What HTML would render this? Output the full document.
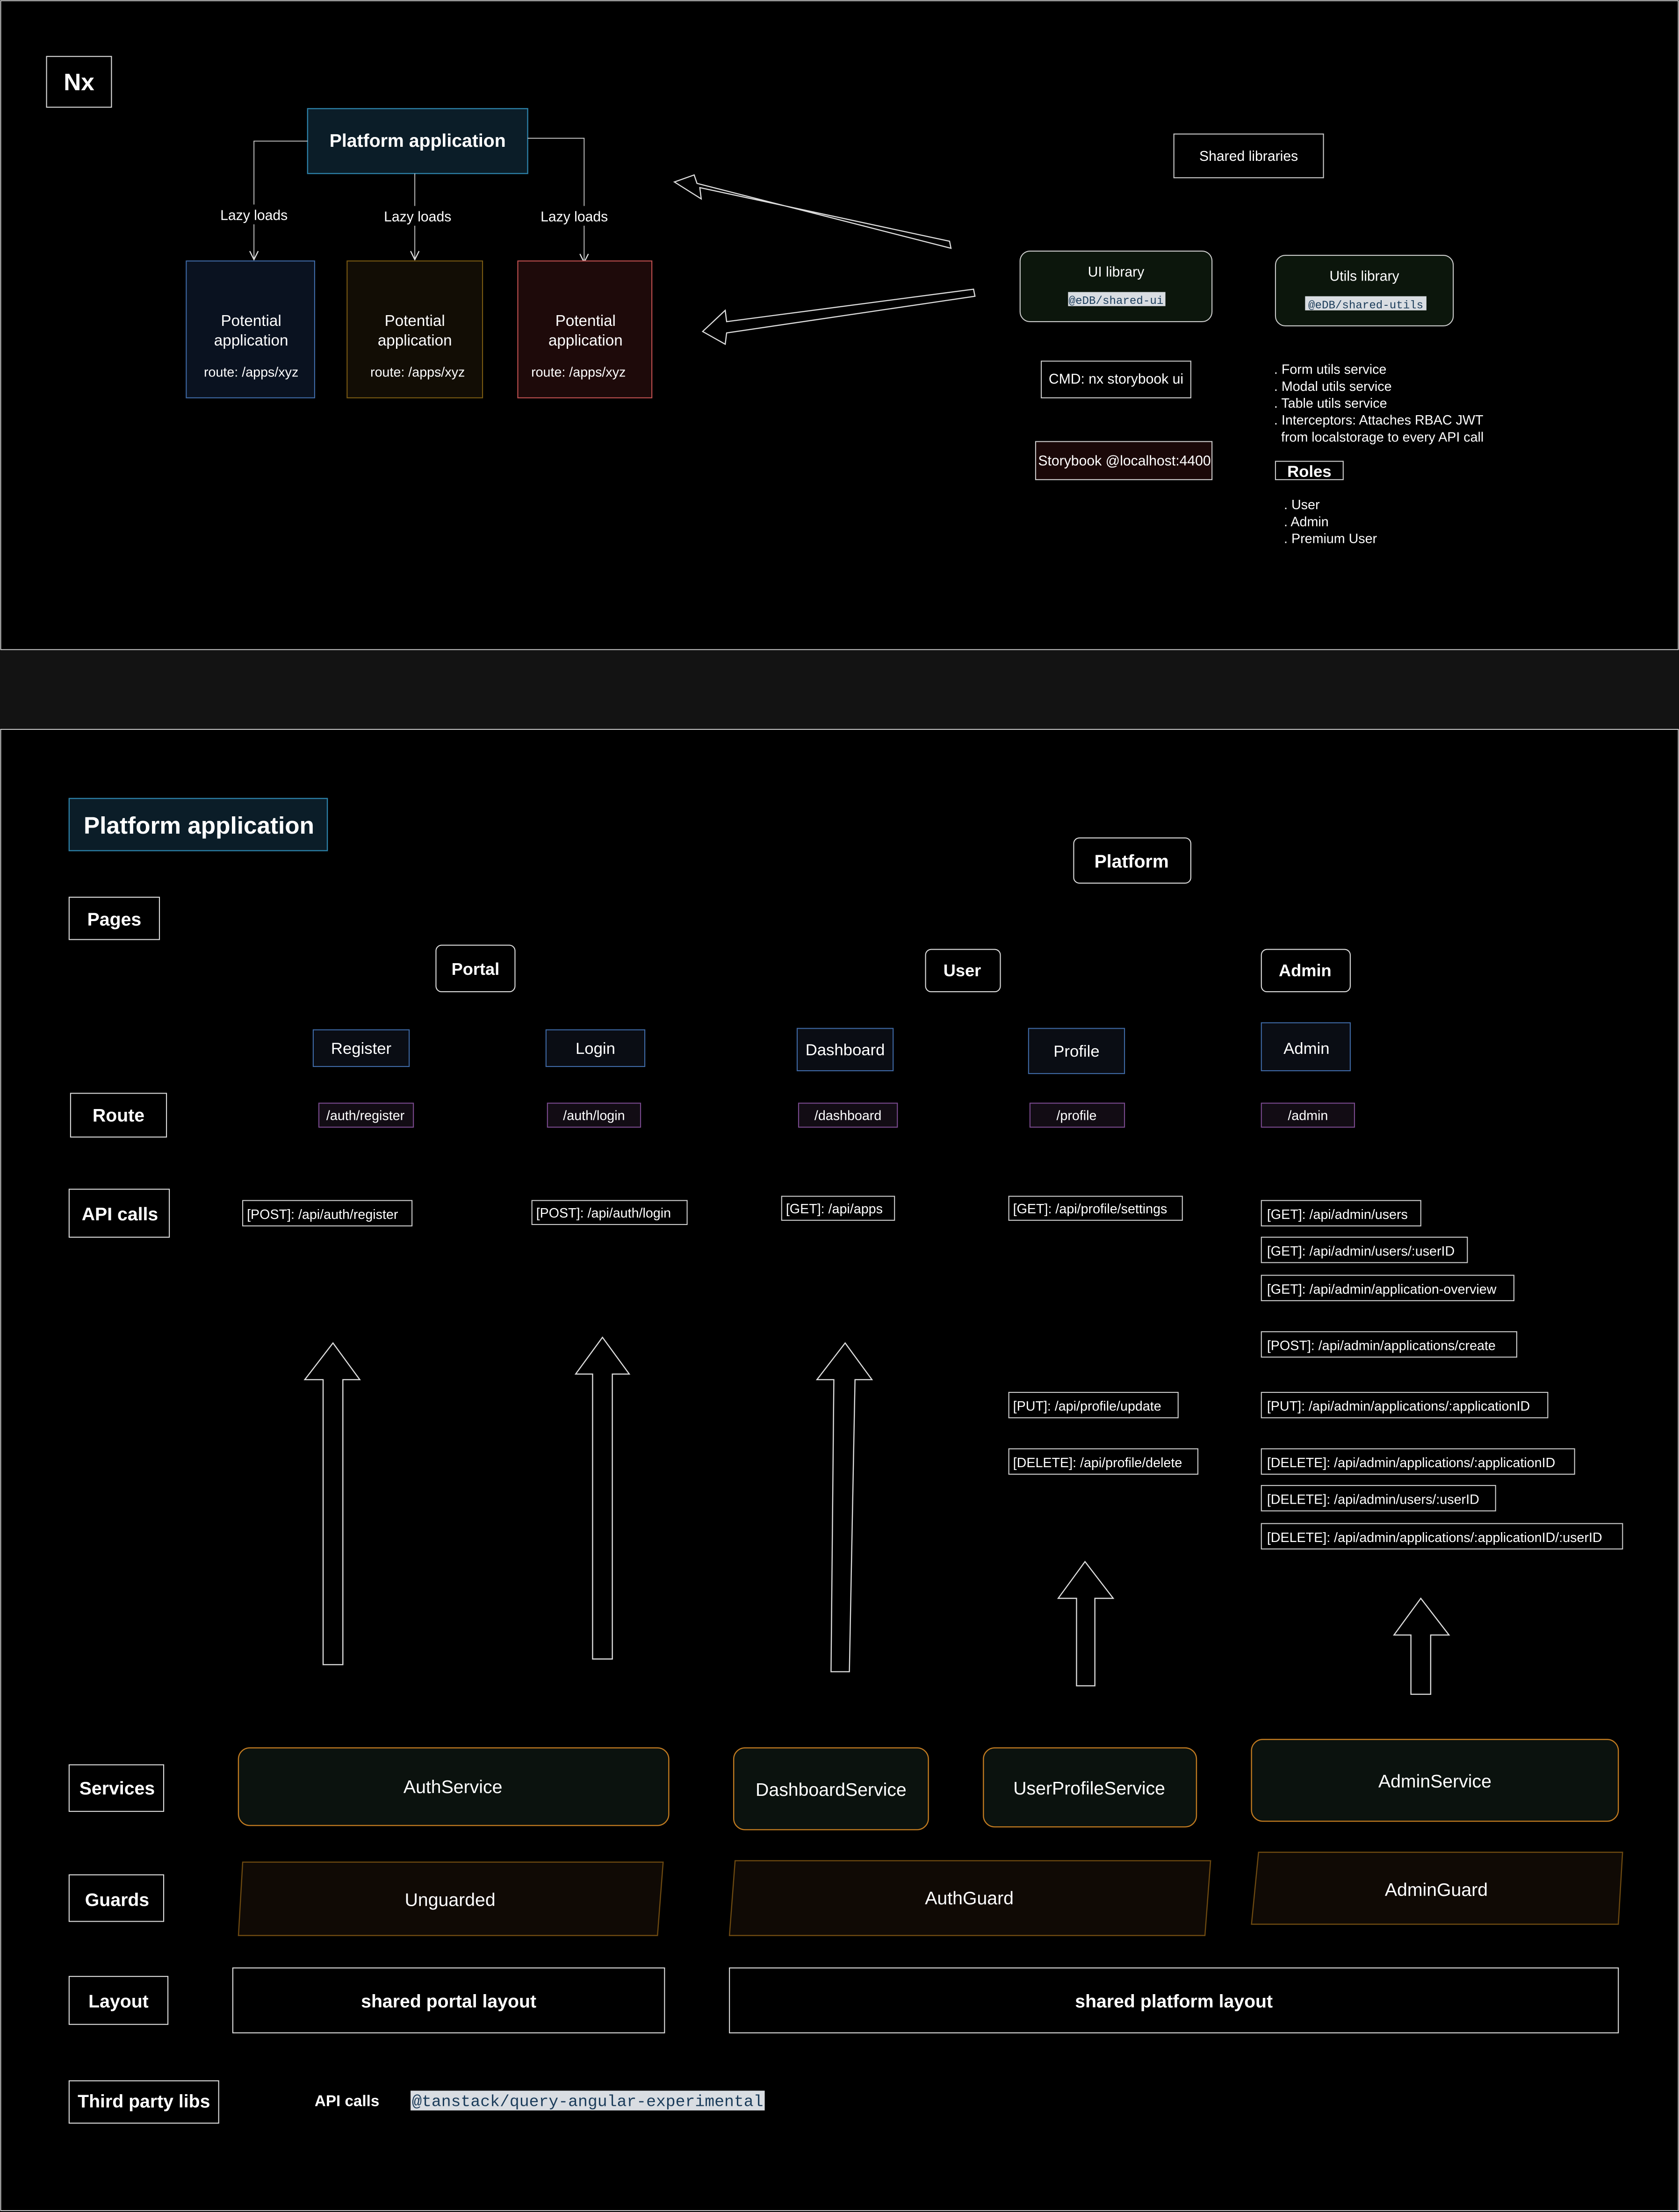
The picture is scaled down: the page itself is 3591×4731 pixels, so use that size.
<!DOCTYPE html>
<html><head><meta charset="utf-8"><style>
html,body{margin:0;padding:0;background:#000;}
svg{display:block;}
text{font-family:"Liberation Sans",sans-serif;fill:#fff;}
.b{font-weight:bold;}
.m{font-family:"Liberation Mono",monospace;fill:#1b3c5a;}
</style></head><body>
<svg width="3591" height="4731" viewBox="0 0 1190 1568" preserveAspectRatio="none" xmlns="http://www.w3.org/2000/svg">
<defs>
<marker id="ah" markerWidth="8" markerHeight="8" refX="7" refY="4" orient="auto" markerUnits="userSpaceOnUse"><path d="M1,1 L7,4 L1,7" fill="none" stroke="#ddd" stroke-width="0.8"/></marker>
</defs>
<rect x="0" y="0" width="1190" height="1568" fill="#000"/>
<rect x="0.5" y="0.5" width="1189" height="460" fill="#000" stroke="#ddd" stroke-width="0.6"/>
<rect x="0" y="461" width="1190" height="56" fill="#131313"/>
<rect x="0.5" y="517" width="1189" height="1050" fill="#000" stroke="#ddd" stroke-width="0.6"/>

<g stroke="#ddd" stroke-width="0.7" fill="none">
<rect x="33" y="40" width="46" height="36"/>
</g>
<text x="56" y="64" font-size="17" class="b" text-anchor="middle">Nx</text>

<rect x="218" y="77" width="156" height="46" fill="#0b1d28" stroke="#2c7fa6" stroke-width="0.8"/>
<text x="296" y="104" font-size="13" class="b" text-anchor="middle">Platform application</text>

<g stroke="#ccc" stroke-width="0.6" fill="none" marker-end="url(#ah)">
<path d="M218,100 H180 V184"/>
<path d="M294,123 V184"/>
<path d="M374,98 H414 V186"/>
</g>
<rect x="150" y="145" width="60" height="14" fill="#000"/>
<rect x="266" y="146" width="60" height="14" fill="#000"/>
<rect x="378" y="146" width="60" height="14" fill="#000"/>
<text x="180" y="156" font-size="10" text-anchor="middle">Lazy loads</text>
<text x="296" y="157" font-size="10" text-anchor="middle">Lazy loads</text>
<text x="407" y="157" font-size="10" text-anchor="middle">Lazy loads</text>

<rect x="132" y="185" width="91" height="97" fill="#0a1220" stroke="#3f6aa6" stroke-width="0.7"/>
<rect x="246" y="185" width="96" height="97" fill="#120d05" stroke="#7a5a12" stroke-width="0.7"/>
<rect x="367" y="185" width="95" height="97" fill="#1e0a0a" stroke="#c05050" stroke-width="0.7"/>
<g font-size="11" text-anchor="middle">
<text x="178" y="231">Potential</text><text x="178" y="245">application</text><text x="178" y="267" font-size="9.5">route: /apps/xyz</text>
<text x="294" y="231">Potential</text><text x="294" y="245">application</text><text x="296" y="267" font-size="9.5">route: /apps/xyz</text>
<text x="415" y="231">Potential</text><text x="415" y="245">application</text><text x="410" y="267" font-size="9.5">route: /apps/xyz</text>
</g>

<g stroke="#ddd" stroke-width="0.8" fill="none">
<polygon points="673,171 496,133 497,141 478,129 492,124 494,130 674,176"/>
<polygon points="690,205 515,228 514,220 498,235 514,244 515,236 691,210"/>
</g>

<rect x="832" y="95" width="106" height="31" fill="#000" stroke="#ccc" stroke-width="0.7"/>
<text x="885" y="114" font-size="10" text-anchor="middle">Shared libraries</text>

<rect x="723" y="178" width="136" height="50" rx="7" fill="#0c160c" stroke="#ccc" stroke-width="0.7"/>
<text x="791" y="196" font-size="10" text-anchor="middle">UI library</text>
<rect x="757" y="207" width="69" height="10" fill="#d9dde2"/>
<text x="791" y="215.5" font-size="8" class="m" text-anchor="middle">@eDB/shared-ui</text>

<rect x="904" y="181" width="126" height="50" rx="7" fill="#0c160c" stroke="#ccc" stroke-width="0.7"/>
<text x="967" y="199" font-size="10" text-anchor="middle">Utils library</text>
<rect x="925" y="210" width="86" height="10" fill="#d9dde2"/>
<text x="968" y="218.5" font-size="8" class="m" text-anchor="middle">@eDB/shared-utils</text>

<rect x="738" y="256" width="106" height="26" fill="#000" stroke="#ccc" stroke-width="0.7"/>
<text x="791" y="272" font-size="10" text-anchor="middle">CMD: nx storybook ui</text>
<rect x="734" y="313" width="125" height="27" fill="#1a0808" stroke="#ccc" stroke-width="0.7"/>
<text x="797" y="330" font-size="10" text-anchor="middle">Storybook @localhost:4400</text>

<g font-size="9.5">
<text x="903" y="265">. Form utils service</text>
<text x="903" y="277">. Modal utils service</text>
<text x="903" y="289">. Table utils service</text>
<text x="903" y="301">. Interceptors: Attaches RBAC JWT</text>
<text x="908" y="313">from localstorage to every API call</text>
<text x="910" y="361">. User</text>
<text x="910" y="373">. Admin</text>
<text x="910" y="385">. Premium User</text>
</g>
<rect x="904" y="327" width="48" height="13" fill="#000" stroke="#ccc" stroke-width="0.7"/>
<text x="928" y="338" font-size="11.5" class="b" text-anchor="middle">Roles</text>

<!-- bottom -->
<rect x="49" y="566" width="183" height="37" fill="#0b1d28" stroke="#2c7fa6" stroke-width="0.8"/>
<text x="141" y="591" font-size="17" class="b" text-anchor="middle">Platform application</text>

<g stroke="#ddd" stroke-width="0.7" fill="#000">
<rect x="49" y="636" width="64" height="30"/>
<rect x="50" y="775" width="68" height="31"/>
<rect x="49" y="843" width="71" height="34"/>
<rect x="49" y="1251" width="67" height="33"/>
<rect x="49" y="1329" width="67" height="33"/>
<rect x="49" y="1401" width="70" height="34"/>
<rect x="49" y="1475" width="106" height="30"/>
<rect x="309" y="670" width="56" height="33" rx="4"/>
<rect x="761" y="594" width="83" height="32" rx="4"/>
<rect x="656" y="673" width="53" height="30" rx="4"/>
<rect x="894" y="673" width="63" height="30" rx="4"/>
<rect x="165" y="1395" width="306" height="46"/>
<rect x="517" y="1395" width="630" height="46"/>
</g>
<g font-size="13" class="b" text-anchor="middle">
<text x="81" y="656">Pages</text>
<text x="84" y="795">Route</text>
<text x="85" y="865">API calls</text>
<text x="83" y="1272">Services</text>
<text x="83" y="1351">Guards</text>
<text x="84" y="1423">Layout</text>
<text x="102" y="1494">Third party libs</text>
<text x="337" y="691" font-size="12">Portal</text>
<text x="802" y="615">Platform</text>
<text x="682" y="692" font-size="12">User</text>
<text x="925" y="692" font-size="12">Admin</text>
<text x="318" y="1423">shared portal layout</text>
<text x="832" y="1423">shared platform layout</text>
</g>

<g stroke="#3f6aa6" stroke-width="0.7" fill="#0a0d14">
<rect x="222" y="730" width="68" height="26"/>
<rect x="387" y="730" width="70" height="26"/>
<rect x="565" y="729" width="68" height="30"/>
<rect x="729" y="729" width="68" height="32"/>
<rect x="894" y="725" width="63" height="34"/>
</g>
<g font-size="11.5" text-anchor="middle">
<text x="256" y="747">Register</text>
<text x="422" y="747">Login</text>
<text x="599" y="748">Dashboard</text>
<text x="763" y="749">Profile</text>
<text x="926" y="747">Admin</text>
</g>

<g stroke="#7a4a8f" stroke-width="0.7" fill="#120c14">
<rect x="226" y="782" width="67" height="17"/>
<rect x="388" y="782" width="66" height="17"/>
<rect x="566" y="782" width="70" height="17"/>
<rect x="730" y="782" width="67" height="17"/>
<rect x="894" y="782" width="66" height="17"/>
</g>
<g font-size="9.5" text-anchor="middle">
<text x="259" y="794">/auth/register</text>
<text x="421" y="794">/auth/login</text>
<text x="601" y="794">/dashboard</text>
<text x="763" y="794">/profile</text>
<text x="927" y="794">/admin</text>
</g>

<g stroke="#ccc" stroke-width="0.7" fill="#000">
<rect x="172" y="851" width="120" height="18"/>
<rect x="377" y="851" width="110" height="17"/>
<rect x="554" y="848" width="80" height="17"/>
<rect x="715" y="848" width="123" height="17"/>
<rect x="715" y="987" width="120" height="18"/>
<rect x="715" y="1027" width="134" height="18"/>
<rect x="894" y="851" width="113" height="18"/>
<rect x="894" y="877" width="146" height="18"/>
<rect x="894" y="904" width="179" height="18"/>
<rect x="894" y="944" width="181" height="18"/>
<rect x="894" y="987" width="203" height="18"/>
<rect x="894" y="1027" width="222" height="18"/>
<rect x="894" y="1053" width="166" height="18"/>
<rect x="894" y="1080" width="256" height="18"/>
</g>
<g font-size="9.5">
<text x="175" y="864">[POST]: /api/auth/register</text>
<text x="380" y="863">[POST]: /api/auth/login</text>
<text x="557" y="860">[GET]: /api/apps</text>
<text x="718" y="860">[GET]: /api/profile/settings</text>
<text x="718" y="1000">[PUT]: /api/profile/update</text>
<text x="718" y="1040">[DELETE]: /api/profile/delete</text>
<text x="898" y="864">[GET]: /api/admin/users</text>
<text x="898" y="890">[GET]: /api/admin/users/:userID</text>
<text x="898" y="917">[GET]: /api/admin/application-overview</text>
<text x="898" y="957">[POST]: /api/admin/applications/create</text>
<text x="898" y="1000">[PUT]: /api/admin/applications/:applicationID</text>
<text x="898" y="1040">[DELETE]: /api/admin/applications/:applicationID</text>
<text x="898" y="1066">[DELETE]: /api/admin/users/:userID</text>
<text x="898" y="1093">[DELETE]: /api/admin/applications/:applicationID/:userID</text>
</g>

<g stroke="#ddd" stroke-width="0.8" fill="none">
<polygon points="229,1180 243,1180 243,978 255,978 236,952 216,978 229,978"/>
<polygon points="420,1176 434,1176 434,974 446,974 427,948 408,974 420,974"/>
<polygon points="589,1185 602,1185 606,978 618,978 599,952 579,978 591,978"/>
<polygon points="763,1195 776,1195 776,1133 789,1133 769,1107 750,1133 763,1133"/>
<polygon points="1000,1201 1014,1201 1014,1159 1027,1159 1007,1133 988,1159 1000,1159"/>
</g>

<g stroke="#c07a20" stroke-width="0.8" fill="#0b120e">
<rect x="169" y="1239" width="305" height="55" rx="8"/>
<rect x="520" y="1239" width="138" height="58" rx="8"/>
<rect x="697" y="1239" width="151" height="56" rx="8"/>
<rect x="887" y="1233" width="260" height="58" rx="8"/>
</g>
<g font-size="13" text-anchor="middle">
<text x="321" y="1271">AuthService</text>
<text x="589" y="1273">DashboardService</text>
<text x="772" y="1272">UserProfileService</text>
<text x="1017" y="1267">AdminService</text>
</g>
<g stroke="#6e4a10" stroke-width="0.8" fill="#100a05">
<polygon points="172,1320 470,1320 466,1372 169,1372"/>
<polygon points="521,1319 858,1319 854,1372 517,1372"/>
<polygon points="892,1313 1150,1313 1147,1364 887,1364"/>
</g>
<g font-size="13" text-anchor="middle">
<text x="319" y="1351">Unguarded</text>
<text x="687" y="1350">AuthGuard</text>
<text x="1018" y="1344">AdminGuard</text>
</g>

<text x="223" y="1493" font-size="11" class="b">API calls</text>
<rect x="291" y="1482" width="251" height="14" fill="#d9dde2"/>
<text x="292" y="1493" font-size="11.5" class="m" textLength="249" lengthAdjust="spacingAndGlyphs">@tanstack/query-angular-experimental</text>
</svg>
</body></html>
